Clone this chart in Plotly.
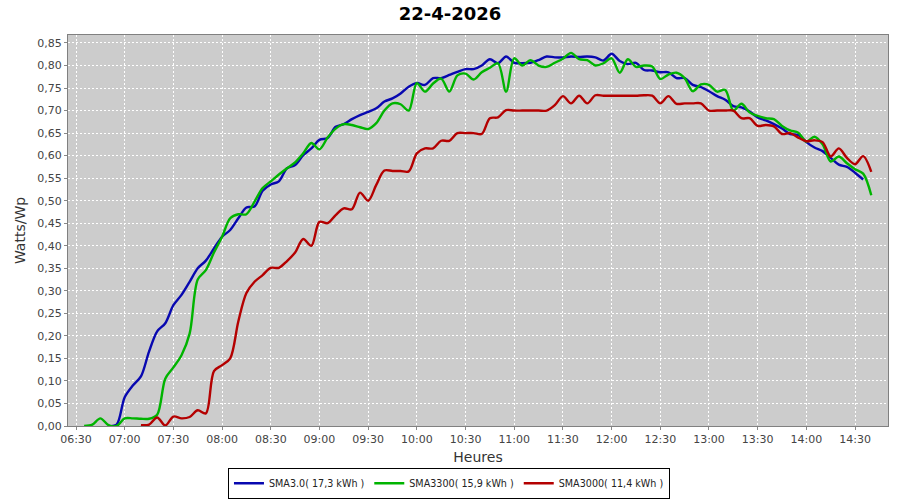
import pandas as pd
import plotly.graph_objects as go

TITLE = "22-4-2026"
DAY = "2026-04-22"

# Series: start time (5-minute sampling) and values in Watts/Wp
sma30_name = "SMA3.0( 17,3 kWh )"
sma30_start = "06:50"
sma30_vals = [0.0, 0.003, 0.064, 0.090, 0.110, 0.165, 0.210, 0.228, 0.268, 0.291,
              0.320, 0.350, 0.367, 0.394, 0.420, 0.435, 0.461, 0.485, 0.487, 0.522,
              0.536, 0.543, 0.572, 0.579, 0.601, 0.616, 0.635, 0.639, 0.664, 0.670,
              0.681, 0.690, 0.697, 0.705, 0.720, 0.727, 0.738, 0.753, 0.761, 0.757,
              0.772, 0.772, 0.779, 0.786, 0.792, 0.792, 0.800, 0.814, 0.805, 0.820,
              0.806, 0.805, 0.806, 0.812, 0.820, 0.818, 0.818, 0.820, 0.819, 0.820,
              0.818, 0.811, 0.826, 0.810, 0.803, 0.806, 0.790, 0.789, 0.785, 0.785,
              0.772, 0.772, 0.757, 0.752, 0.743, 0.732, 0.724, 0.710, 0.707, 0.698,
              0.685, 0.678, 0.670, 0.660, 0.648, 0.646, 0.630, 0.618, 0.610, 0.595,
              0.580, 0.575, 0.562, 0.547]

sma3300_name = "SMA3300( 15,9 kWh )"
sma3300_start = "06:35"
sma3300_vals = [0.0, 0.003, 0.017, 0.002, 0.0, 0.017, 0.017, 0.016, 0.016, 0.025,
                0.105, 0.130, 0.157, 0.205, 0.325, 0.346, 0.385, 0.420, 0.461, 0.470,
                0.470, 0.498, 0.528, 0.543, 0.558, 0.572, 0.585, 0.605, 0.628, 0.614,
                0.640, 0.660, 0.670, 0.668, 0.663, 0.659, 0.672, 0.700, 0.716, 0.714,
                0.700, 0.761, 0.742, 0.760, 0.771, 0.742, 0.778, 0.782, 0.769, 0.785,
                0.795, 0.805, 0.742, 0.816, 0.800, 0.812, 0.800, 0.797, 0.806, 0.815,
                0.828, 0.814, 0.812, 0.800, 0.805, 0.816, 0.784, 0.814, 0.797, 0.800,
                0.798, 0.770, 0.780, 0.784, 0.772, 0.743, 0.758, 0.757, 0.742, 0.746,
                0.700, 0.715, 0.696, 0.688, 0.683, 0.681, 0.666, 0.656, 0.651, 0.631,
                0.642, 0.625, 0.587, 0.598, 0.583, 0.570, 0.560, 0.512]

sma3000_name = "SMA3000( 11,4 kWh )"
sma3000_start = "07:10"
sma3000_vals = [0.002, 0.003, 0.019, 0.001, 0.021, 0.017, 0.020, 0.035, 0.028, 0.122,
                0.135, 0.150, 0.232, 0.295, 0.320, 0.335, 0.351, 0.351, 0.366, 0.385,
                0.415, 0.400, 0.453, 0.450, 0.468, 0.483, 0.481, 0.518, 0.500, 0.535,
                0.567, 0.566, 0.566, 0.565, 0.605, 0.616, 0.616, 0.633, 0.633, 0.650,
                0.650, 0.650, 0.648, 0.683, 0.685, 0.701, 0.700, 0.700, 0.700, 0.700,
                0.700, 0.712, 0.732, 0.716, 0.733, 0.716, 0.734, 0.733, 0.733, 0.733,
                0.733, 0.733, 0.734, 0.733, 0.716, 0.732, 0.715, 0.716, 0.716, 0.716,
                0.700, 0.700, 0.700, 0.700, 0.683, 0.683, 0.666, 0.668, 0.665, 0.648,
                0.650, 0.640, 0.632, 0.634, 0.630, 0.598, 0.616, 0.595, 0.581, 0.599,
                0.564]

series = [
    (sma30_name, sma30_start, sma30_vals, "#0808b0"),
    (sma3300_name, sma3300_start, sma3300_vals, "#00b400"),
    (sma3000_name, sma3000_start, sma3000_vals, "#b40000"),
]

x_tick_labels = ["06:30", "07:00", "07:30", "08:00", "08:30", "09:00", "09:30", "10:00",
                 "10:30", "11:00", "11:30", "12:00", "12:30", "13:00", "13:30", "14:00", "14:30"]

FONT = "DejaVu Sans"

fig = go.Figure()
for name, start, vals, color in series:
    xs = pd.date_range(f"{DAY} {start}", periods=len(vals), freq="5min")
    fig.add_trace(go.Scatter(
        x=xs, y=vals, name=name, mode="lines",
        line=dict(color=color, width=2.4, shape="spline", smoothing=0.9),
    ))

tickvals = [f"{DAY} {t}" for t in x_tick_labels]

fig.update_layout(
    width=900, height=500,
    paper_bgcolor="white", plot_bgcolor="#cccccc",
    separators=", ",
    margin=dict(l=68, r=12, t=35, b=74, autoexpand=False),
    title=dict(text=f"<b>{TITLE}</b>", x=0.5, xanchor="center", y=0.972, yanchor="middle",
               automargin=False,
               font=dict(family=FONT, size=18, color="black")),
    font=dict(family=FONT, size=11, color="#444444"),
    showlegend=True,
    legend=dict(orientation="h", x=0.4646, xanchor="center", y=-0.186, yanchor="bottom",
                bordercolor="black", borderwidth=1, bgcolor="white",
                font=dict(family=FONT, size=9.6, color="#222222"),
                itemwidth=30, tracegroupgap=0, itemclick=False),
)

fig.update_xaxes(
    type="date", automargin=False,
    range=[f"{DAY} 06:25:04", f"{DAY} 14:50:18"],
    tickvals=tickvals, ticktext=x_tick_labels,
    showgrid=True, gridcolor="white", griddash="2px,2px", gridwidth=1,
    ticks="outside", ticklen=3, tickcolor="#888888",
    showline=True, linecolor="#808080", linewidth=1, mirror=True,
    tickfont=dict(family=FONT, size=11, color="#444444"),
    title=dict(text="Heures", font=dict(family=FONT, size=14, color="#333333"), standoff=6),
    zeroline=False,
)
fig.update_yaxes(
    automargin=False,
    range=[0, 0.8677], dtick=0.05, tick0=0, tickformat=".2f",
    showgrid=True, gridcolor="white", griddash="2px,2px", gridwidth=1,
    ticks="outside", ticklen=3, tickcolor="#888888",
    showline=True, linecolor="#808080", linewidth=1, mirror=True,
    tickfont=dict(family=FONT, size=11, color="#444444"),
    title=dict(text="Watts/Wp", font=dict(family=FONT, size=14, color="#333333"), standoff=8),
    zeroline=False,
)

fig.write_html("out.html", config={"displayModeBar": False},
               post_script="document.body.style.margin='0';")
